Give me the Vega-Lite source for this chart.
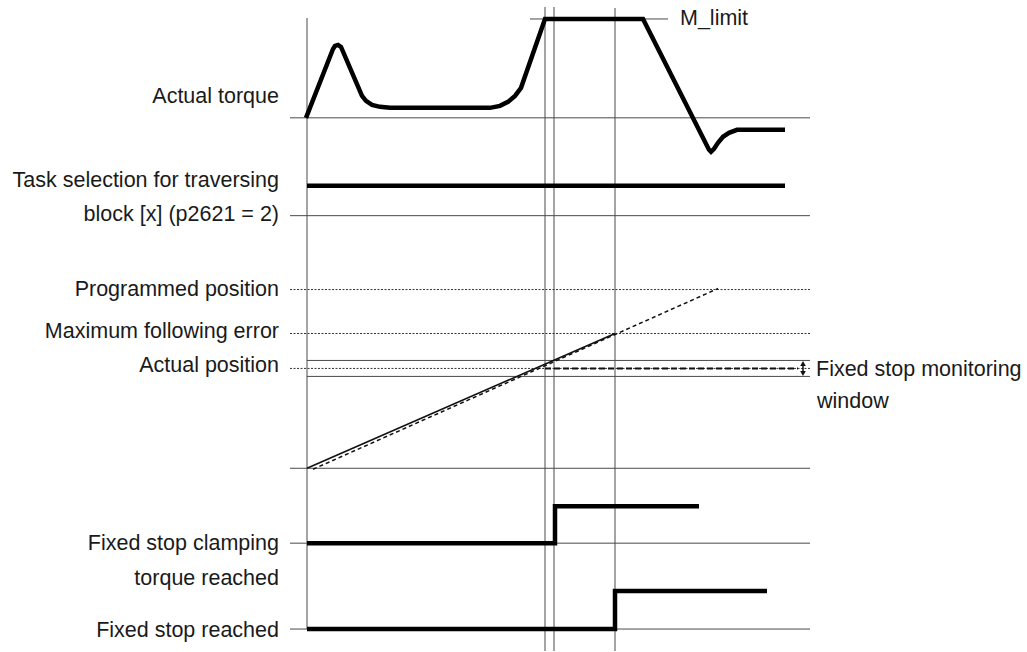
{
  "$schema": "https://vega.github.io/schema/vega-lite/v6.json",
  "width": 1027,
  "height": 652,
  "autosize": {"type": "fit", "contains": "padding"},
  "padding": 0,
  "background": "white",
  "config": {"view": {"stroke": null}},
  "datasets": {
    "rules": [
      {"x": 307, "x2": 307, "y": 18, "y2": 630, "kind": "solid"},
      {"x": 545, "x2": 545, "y": 7, "y2": 652, "kind": "solid"},
      {"x": 554, "x2": 554, "y": 7, "y2": 652, "kind": "solid"},
      {"x": 615, "x2": 615, "y": 8, "y2": 652, "kind": "solid"},
      {"x": 290, "x2": 810, "y": 118, "y2": 118, "kind": "solid"},
      {"x": 530, "x2": 668, "y": 19, "y2": 19, "kind": "solid"},
      {"x": 290, "x2": 810, "y": 216, "y2": 216, "kind": "solid"},
      {"x": 307, "x2": 810, "y": 361, "y2": 361, "kind": "solid"},
      {"x": 307, "x2": 810, "y": 377, "y2": 377, "kind": "solid"},
      {"x": 290, "x2": 810, "y": 469, "y2": 469, "kind": "solid"},
      {"x": 290, "x2": 810, "y": 544, "y2": 544, "kind": "solid"},
      {"x": 290, "x2": 810, "y": 630, "y2": 630, "kind": "solid"},
      {"x": 290, "x2": 810, "y": 290, "y2": 290, "kind": "dotted"},
      {"x": 290, "x2": 810, "y": 334, "y2": 334, "kind": "dotted"},
      {"x": 290, "x2": 810, "y": 369, "y2": 369, "kind": "dotted"},
      {"x": 803, "x2": 803, "y": 364, "y2": 374, "kind": "arrow"}
    ],
    "thick": [
      {"s": "torque", "o": 1, "x": 306, "y": 118},
      {"s": "torque", "o": 2, "x": 333, "y": 49},
      {"s": "torque", "o": 3, "x": 335, "y": 46},
      {"s": "torque", "o": 4, "x": 338, "y": 45},
      {"s": "torque", "o": 5, "x": 341, "y": 47},
      {"s": "torque", "o": 6, "x": 362, "y": 96},
      {"s": "torque", "o": 7, "x": 366, "y": 101},
      {"s": "torque", "o": 8, "x": 372, "y": 105},
      {"s": "torque", "o": 9, "x": 380, "y": 107},
      {"s": "torque", "o": 10, "x": 390, "y": 108},
      {"s": "torque", "o": 11, "x": 490, "y": 108},
      {"s": "torque", "o": 12, "x": 500, "y": 106},
      {"s": "torque", "o": 13, "x": 508, "y": 102},
      {"s": "torque", "o": 14, "x": 515, "y": 96},
      {"s": "torque", "o": 15, "x": 521, "y": 88},
      {"s": "torque", "o": 16, "x": 545, "y": 19},
      {"s": "torque", "o": 17, "x": 643, "y": 19},
      {"s": "torque", "o": 18, "x": 709, "y": 150},
      {"s": "torque", "o": 19, "x": 711, "y": 152},
      {"s": "torque", "o": 20, "x": 714, "y": 149},
      {"s": "torque", "o": 21, "x": 718, "y": 143},
      {"s": "torque", "o": 22, "x": 723, "y": 137},
      {"s": "torque", "o": 23, "x": 729, "y": 133},
      {"s": "torque", "o": 24, "x": 737, "y": 130},
      {"s": "torque", "o": 25, "x": 785, "y": 130},
      {"s": "task", "o": 1, "x": 307, "y": 186},
      {"s": "task", "o": 2, "x": 785, "y": 186},
      {"s": "clamp", "o": 1, "x": 307, "y": 544},
      {"s": "clamp", "o": 2, "x": 555, "y": 544},
      {"s": "clamp", "o": 3, "x": 555, "y": 507},
      {"s": "clamp", "o": 4, "x": 699, "y": 507},
      {"s": "reached", "o": 1, "x": 307, "y": 630},
      {"s": "reached", "o": 2, "x": 615, "y": 630},
      {"s": "reached", "o": 3, "x": 615, "y": 592},
      {"s": "reached", "o": 4, "x": 767, "y": 592}
    ],
    "pos": [
      {"s": "actual", "o": 1, "x": 307, "y": 469},
      {"s": "actual", "o": 2, "x": 615, "y": 334},
      {"s": "programmed", "o": 1, "x": 313, "y": 470},
      {"s": "programmed", "o": 2, "x": 718, "y": 289},
      {"s": "stop", "o": 1, "x": 545, "y": 369},
      {"s": "stop", "o": 2, "x": 798, "y": 369}
    ],
    "arrowheads": [
      {"x": 803, "y": 364, "shape": "up"},
      {"x": 803, "y": 374, "shape": "down"}
    ],
    "labels": [
      {"x": 279, "y": 97, "text": "Actual torque", "align": "right"},
      {"x": 279, "y": 181, "text": "Task selection for traversing", "align": "right"},
      {"x": 279, "y": 215, "text": "block [x] (p2621 = 2)", "align": "right"},
      {"x": 279, "y": 290, "text": "Programmed position", "align": "right"},
      {"x": 279, "y": 333, "text": "Maximum following error", "align": "right"},
      {"x": 279, "y": 367, "text": "Actual position", "align": "right"},
      {"x": 279, "y": 545, "text": "Fixed stop clamping", "align": "right"},
      {"x": 279, "y": 580, "text": "torque reached", "align": "right"},
      {"x": 279, "y": 632, "text": "Fixed stop reached", "align": "right"},
      {"x": 680, "y": 19, "text": "M_limit", "align": "left"},
      {"x": 816, "y": 371, "text": "Fixed stop monitoring", "align": "left"},
      {"x": 817, "y": 403, "text": "window", "align": "left"}
    ]
  },
  "layer": [
    {
      "data": {"name": "rules"},
      "transform": [{"filter": "datum.kind === 'solid'"}],
      "mark": {"type": "rule", "color": "#4a4a4a", "strokeWidth": 1},
      "encoding": {
        "x": {"field": "x", "type": "quantitative", "scale": {"domain": [0, 1027], "nice": false, "zero": false}, "axis": null},
        "x2": {"field": "x2"},
        "y": {"field": "y", "type": "quantitative", "scale": {"domain": [652, 0], "nice": false, "zero": false}, "axis": null},
        "y2": {"field": "y2"}
      }
    },
    {
      "data": {"name": "rules"},
      "transform": [{"filter": "datum.kind === 'dotted'"}],
      "mark": {"type": "rule", "color": "#333333", "strokeWidth": 1, "strokeDash": [2, 1.5]},
      "encoding": {
        "x": {"field": "x", "type": "quantitative", "axis": null},
        "x2": {"field": "x2"},
        "y": {"field": "y", "type": "quantitative", "axis": null},
        "y2": {"field": "y2"}
      }
    },
    {
      "data": {"name": "pos"},
      "transform": [{"filter": "datum.s === 'programmed'"}],
      "mark": {"type": "line", "color": "#111111", "strokeWidth": 1.5, "strokeDash": [4, 3]},
      "encoding": {
        "x": {"field": "x", "type": "quantitative", "axis": null},
        "y": {"field": "y", "type": "quantitative", "axis": null},
        "order": {"field": "o"}
      }
    },
    {
      "data": {"name": "pos"},
      "transform": [{"filter": "datum.s === 'actual'"}],
      "mark": {"type": "line", "color": "#111111", "strokeWidth": 1.6},
      "encoding": {
        "x": {"field": "x", "type": "quantitative", "axis": null},
        "y": {"field": "y", "type": "quantitative", "axis": null},
        "order": {"field": "o"}
      }
    },
    {
      "data": {"name": "pos"},
      "transform": [{"filter": "datum.s === 'stop'"}],
      "mark": {"type": "line", "color": "#111111", "strokeWidth": 2, "strokeDash": [6, 3]},
      "encoding": {
        "x": {"field": "x", "type": "quantitative", "axis": null},
        "y": {"field": "y", "type": "quantitative", "axis": null},
        "order": {"field": "o"}
      }
    },
    {
      "data": {"name": "rules"},
      "transform": [{"filter": "datum.kind === 'arrow'"}],
      "mark": {"type": "rule", "color": "#111111", "strokeWidth": 1.5},
      "encoding": {
        "x": {"field": "x", "type": "quantitative", "axis": null},
        "x2": {"field": "x2"},
        "y": {"field": "y", "type": "quantitative", "axis": null},
        "y2": {"field": "y2"}
      }
    },
    {
      "data": {"name": "arrowheads"},
      "transform": [{"filter": "datum.shape === 'up'"}],
      "mark": {"type": "point", "shape": "triangle-up", "filled": true, "color": "#111111", "size": 32, "opacity": 1},
      "encoding": {
        "x": {"field": "x", "type": "quantitative", "axis": null},
        "y": {"field": "y", "type": "quantitative", "axis": null}
      }
    },
    {
      "data": {"name": "arrowheads"},
      "transform": [{"filter": "datum.shape === 'down'"}],
      "mark": {"type": "point", "shape": "triangle-down", "filled": true, "color": "#111111", "size": 32, "opacity": 1},
      "encoding": {
        "x": {"field": "x", "type": "quantitative", "axis": null},
        "y": {"field": "y", "type": "quantitative", "axis": null}
      }
    },
    {
      "data": {"name": "thick"},
      "mark": {"type": "line", "color": "#000000", "strokeWidth": 4.5, "strokeJoin": "miter", "strokeCap": "butt"},
      "encoding": {
        "x": {"field": "x", "type": "quantitative", "axis": null},
        "y": {"field": "y", "type": "quantitative", "axis": null},
        "detail": {"field": "s", "type": "nominal"},
        "order": {"field": "o"}
      }
    },
    {
      "data": {"name": "labels"},
      "transform": [{"filter": "datum.align === 'right'"}],
      "mark": {"type": "text", "align": "right", "font": "Liberation Sans", "fontSize": 21.5, "color": "#1a1a1a", "baseline": "middle"},
      "encoding": {
        "x": {"field": "x", "type": "quantitative", "axis": null},
        "y": {"field": "y", "type": "quantitative", "axis": null},
        "text": {"field": "text"}
      }
    },
    {
      "data": {"name": "labels"},
      "transform": [{"filter": "datum.align === 'left'"}],
      "mark": {"type": "text", "align": "left", "font": "Liberation Sans", "fontSize": 21.5, "color": "#1a1a1a", "baseline": "middle"},
      "encoding": {
        "x": {"field": "x", "type": "quantitative", "axis": null},
        "y": {"field": "y", "type": "quantitative", "axis": null},
        "text": {"field": "text"}
      }
    }
  ]
}
